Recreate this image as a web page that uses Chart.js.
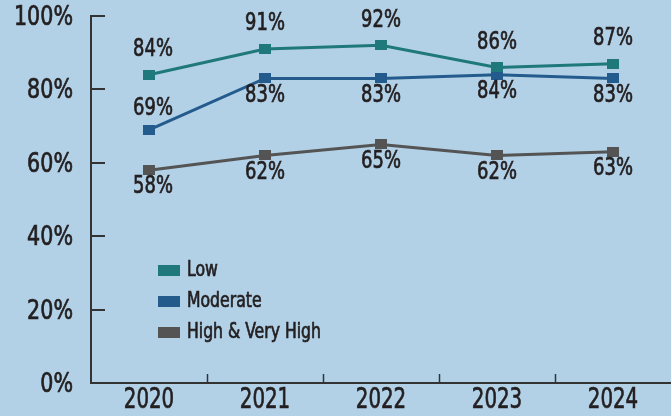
<!DOCTYPE html>
<html lang="en">
<head>
<meta charset="UTF-8">
<title>Share by year</title>
<script src="https://cdn.jsdelivr.net/npm/chart.js"></script>
<style>
  html, body { margin: 0; padding: 0; background: #b2d1e7; }
  #wrap { width: 671px; height: 416px; }
</style>
</head>
<body>
<div id="wrap"><canvas id="grafico"></canvas></div>
<script>
  // dados
  const anos = ['2020', '2021', '2022', '2023', '2024'];
  const low = [84, 91, 92, 86, 87];
  const moderate = [69, 83, 83, 84, 83];
  const highVeryHigh = [58, 62, 65, 62, 63];
  const yTicks = [0, 20, 40, 60, 80, 100];

  const FONTE = "'DejaVu Sans Condensed', 'Liberation Sans Narrow', sans-serif";
  const TEXTO = '#231f20';

  // texto "estreito": comprime na horizontal usando maxWidth do fillText
  // e engrossa um pouco com um contorno fino
  function texto(ctx, t, x, y, k) {
    const w = ctx.measureText(t).width * k;
    ctx.fillText(t, x, y, w);
    ctx.strokeStyle = ctx.fillStyle;
    ctx.lineWidth = 0.7;
    ctx.strokeText(t, x, y, w);
  }

  // marcador retangular (um pouco mais largo que alto)
  function marcador(cor) {
    const c = document.createElement('canvas');
    c.width = 12; c.height = 10;
    const g = c.getContext('2d');
    g.fillStyle = cor;
    g.fillRect(0, 0, 12, 10);
    return c;
  }

  const series = [
    { label: 'Low', data: low, cor: '#1f787b', pos: ['up', 'up', 'up', 'up', 'up'] },
    { label: 'Moderate', data: moderate, cor: '#245b8d', pos: ['up', 'down', 'down', 'down', 'down'] },
    { label: 'High & Very High', data: highVeryHigh, cor: '#545454', pos: ['down', 'down', 'down', 'down', 'down'] }
  ];

  // rótulos dos pontos
  const rotulos = {
    id: 'rotulos',
    afterDatasetsDraw(chart) {
      const ctx = chart.ctx;
      ctx.save();
      ctx.font = '24px ' + FONTE;
      ctx.fillStyle = TEXTO;
      ctx.textAlign = 'center';
      ctx.textBaseline = 'middle';
      chart.data.datasets.forEach((ds, i) => {
        chart.getDatasetMeta(i).data.forEach((pt, j) => {
          const dy = ds.pos[j] === 'up' ? (i === 0 ? -25 : -21) : 17;
          texto(ctx, ds.data[j] + '%', pt.x + (j === 0 ? 4 : 0), pt.y + dy, 0.83);
        });
      });
      ctx.restore();
    }
  };

  // marcas dos eixos (para dentro), textos dos eixos e legenda
  const extras = {
    id: 'extras',
    afterDraw(chart) {
      const ctx = chart.ctx;
      const area = chart.chartArea;
      const y = chart.scales.y, x = chart.scales.x;
      ctx.save();
      ctx.fillStyle = TEXTO;
      ctx.textBaseline = 'middle';
      ctx.font = '27px ' + FONTE;
      ctx.textAlign = 'right';
      yTicks.forEach(v => {
        const py = Math.round(y.getPixelForValue(v));
        texto(ctx, v + '%', area.left - 18, py + 2, 0.85);
        if (v === 0) return;
        ctx.strokeStyle = '#333';
        ctx.lineWidth = 2;
        ctx.beginPath();
        ctx.moveTo(area.left, py);
        ctx.lineTo(area.left + 14, py);
        ctx.stroke();
      });
      ctx.font = '29px ' + FONTE;
      ctx.textAlign = 'center';
      anos.forEach((a, i) => {
        texto(ctx, a, x.getPixelForValue(i), area.bottom + 17, 0.76);
      });
      ctx.strokeStyle = '#333';
      ctx.lineWidth = 1.5;
      for (let i = 1; i < anos.length; i++) {
        const px = Math.round((x.getPixelForValue(i - 1) + x.getPixelForValue(i)) / 2) + 0.5;
        ctx.beginPath();
        ctx.moveTo(px, area.bottom);
        ctx.lineTo(px, area.bottom - 9);
        ctx.stroke();
      }
      // legenda
      ctx.font = '21px ' + FONTE;
      ctx.textAlign = 'left';
      series.forEach((s, i) => {
        const ly = area.top + 254 + i * 31;
        ctx.fillStyle = s.cor;
        ctx.fillRect(area.left + 67, ly - 5, 22, 11);
        ctx.fillStyle = TEXTO;
        texto(ctx, s.label, area.left + 96, ly + 1, 0.83);
      });
      ctx.restore();
    }
  };

  const ctx = document.getElementById('grafico').getContext('2d');
  const chart = new Chart(ctx, {
    type: 'line',
    data: {
      labels: anos,
      datasets: series.map(s => ({
        label: s.label,
        data: s.data,
        pos: s.pos,
        borderColor: s.cor,
        backgroundColor: s.cor,
        borderWidth: 3,
        pointStyle: marcador(s.cor),
        pointRadius: 6,
        pointHoverRadius: 6,
        tension: 0,
        fill: false
      }))
    },
    options: {
      responsive: true,
      maintainAspectRatio: false,
      animation: false,
      layout: { autoPadding: false, padding: { top: 16, right: -3, left: 0, bottom: 0 } },
      plugins: {
        legend: { display: false },
        tooltip: { enabled: false }
      },
      scales: {
        x: {
          type: 'category',
          offset: true,
          grid: { display: false, drawTicks: false },
          border: { display: true, color: '#333', width: 2 },
          ticks: { display: false },
          afterFit(s) { s.height = 33; }
        },
        y: {
          min: 0,
          max: 100,
          grid: { display: false, drawTicks: false },
          border: { display: true, color: '#333', width: 2 },
          afterBuildTicks(s) { s.ticks = yTicks.map(v => ({ value: v })); },
          ticks: { display: false },
          afterFit(s) { s.width = 91; }
        }
      }
    },
    plugins: [rotulos, extras]
  });
</script>
</body>
</html>
